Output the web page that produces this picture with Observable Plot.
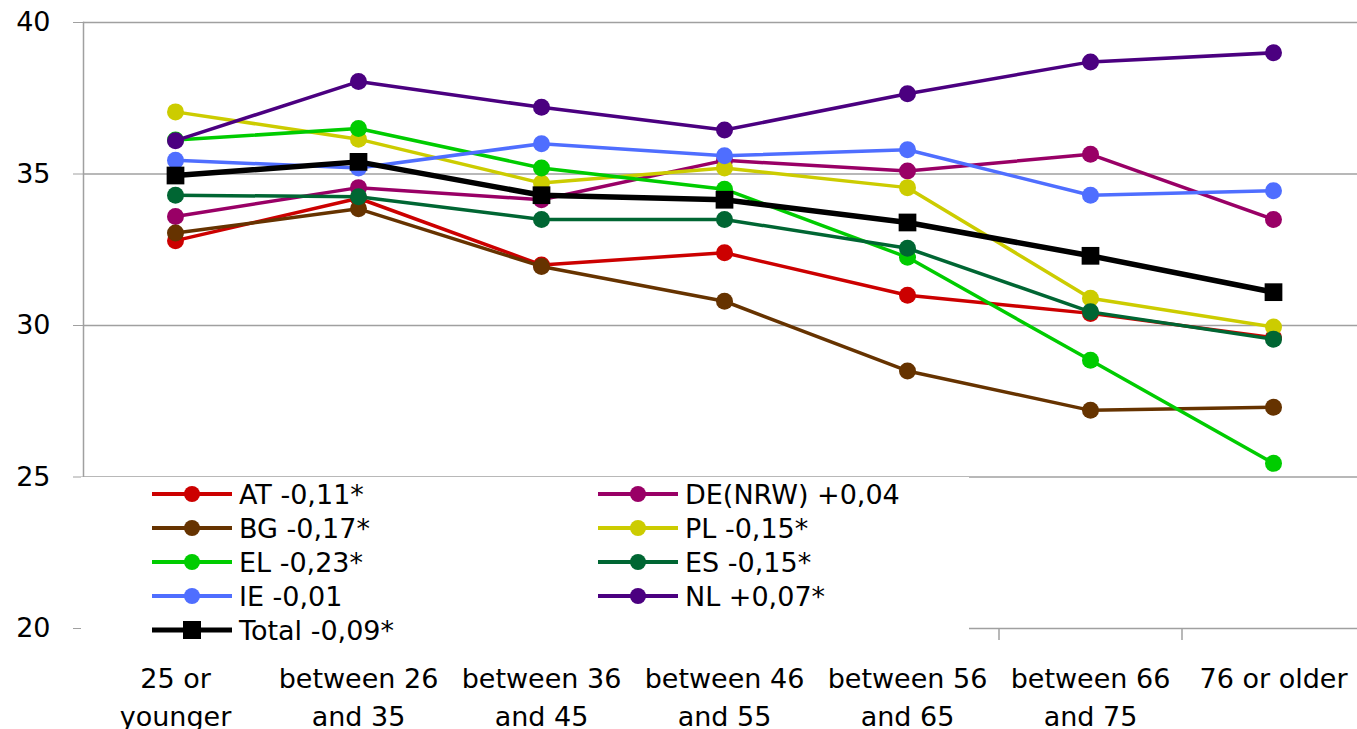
<!DOCTYPE html>
<html><head><meta charset="utf-8">
<script src="https://cdn.jsdelivr.net/npm/d3@7"></script>
<script src="https://cdn.jsdelivr.net/npm/@observablehq/plot@0.6"></script>
<style>
html,body{margin:0;padding:0;overflow:hidden;background:#fff;}
#wrap{position:relative;width:1364px;height:729px;}
#legend{position:absolute;left:81px;top:477px;width:888px;height:168px;background:#fff;}
</style></head><body><div id="wrap"><div id="legend"></div></div>
<script>
const categories = ["25 or younger","between 26 and 35","between 36 and 45","between 46 and 55","between 56 and 65","between 66 and 75","76 or older"];
const tickLabels = ["25 or\nyounger","between 26\nand 35","between 36\nand 45","between 46\nand 55","between 56\nand 65","between 66\nand 75","76 or older"];
const yTicks = [20,25,30,35,40];
const seriesNames = ["AT","DE(NRW)","BG","PL","EL","ES","IE","NL","Total"];
const legendLabels = ["AT -0,11*","DE(NRW) +0,04","BG -0,17*","PL -0,15*","EL -0,23*","ES -0,15*","IE -0,01","NL +0,07*","Total -0,09*"];
const seriesColors = ["#cc0000","#990066","#663300","#cccc00","#00cc00","#006633","#4f6eff","#4b0080","#000000"];

const AT    = [32.8, 34.2, 32.0, 32.4, 31.0, 30.4, 29.6];
const DE    = [33.6, 34.55, 34.15, 35.45, 35.1, 35.65, 33.5];
const BG    = [33.05, 33.85, 31.95, 30.8, 28.5, 27.2, 27.3];
const PL    = [37.05, 36.15, 34.7, 35.2, 34.55, 30.9, 29.95];
const EL    = [36.12, 36.5, 35.2, 34.5, 32.25, 28.85, 25.45];
const ES    = [34.3, 34.25, 33.5, 33.5, 32.55, 30.45, 29.55];
const IE    = [35.45, 35.2, 36.0, 35.6, 35.8, 34.3, 34.45];
const NL    = [36.1, 38.05, 37.2, 36.45, 37.65, 38.7, 39.0];
const Total = [34.95, 35.4, 34.3, 34.15, 33.4, 32.3, 31.1];
const seriesValues = [AT, DE, BG, PL, EL, ES, IE, NL, Total];

const rows = seriesNames.flatMap((s, i) => categories.map((c, j) => ({series: s, category: c, value: seriesValues[i][j]})));

const W = 1364, H = 729, ML = 83, MT = 22, MB = 101;
const step = (W - ML) / categories.length;
const FONT = "DejaVu Sans";
const grey = "#a0a0a0";

const marks = [
  Plot.gridY(yTicks.filter(t => t > 20), {stroke: grey, strokeOpacity: 1, strokeWidth: 1.5}),
  Plot.ruleY([20], {stroke: grey, strokeWidth: 1.5}),
  Plot.frame({anchor: "left", stroke: grey, strokeWidth: 1.5}),
  Plot.ruleX(categories, {x: d => d, dx: step / 2, y1: 20, y2: 19.6, stroke: grey, strokeWidth: 1.5}),
  Plot.axisY({ticks: yTicks, tickSize: 10, tickPadding: 23, stroke: grey, fill: "#000", fontSize: 27, label: null}),
  Plot.axisX({tickSize: 0, tickPadding: 32, tickFormat: d => tickLabels[categories.indexOf(d)], fontSize: 27, lineHeight: 1.41, label: null, fill: "#000"})
];
seriesNames.forEach((s, i) => {
  const data = rows.filter(r => r.series === s);
  const isTotal = s === "Total";
  marks.push(Plot.line(data, {x: "category", y: "value", stroke: seriesColors[i], strokeWidth: isTotal ? 5.5 : 3.5}));
  marks.push(Plot.dot(data, {x: "category", y: "value", fill: seriesColors[i], stroke: "none", r: isTotal ? 10 : 8.5, symbol: isTotal ? "square" : "circle"}));
});

const chart = Plot.plot({
  width: W, height: H,
  marginLeft: ML, marginRight: 0, marginTop: MT, marginBottom: MB,
  style: {fontFamily: FONT, color: "#000", background: "#fff", overflow: "visible"},
  x: {type: "point", domain: categories, padding: 0.5},
  y: {domain: [20, 40]},
  marks
});
document.getElementById("wrap").insertBefore(chart, document.getElementById("legend"));

// legend
const lg = d3.select("#legend").append("svg").attr("width", 888).attr("height", 168)
  .style("font-family", FONT).style("font-size", "27px");
const colX = [71, 517];
seriesNames.forEach((s, i) => {
  const col = i % 2, row = Math.floor(i / 2);
  const x0 = colX[col], y = 17 + 34 * row;
  const g = lg.append("g");
  g.append("line").attr("x1", x0).attr("x2", x0 + 80).attr("y1", y).attr("y2", y)
    .attr("stroke", seriesColors[i]).attr("stroke-width", s === "Total" ? 5 : 4);
  if (s === "Total") {
    g.append("rect").attr("x", x0 + 40 - 9).attr("y", y - 9).attr("width", 18).attr("height", 18).attr("fill", seriesColors[i]);
  } else {
    g.append("circle").attr("cx", x0 + 40).attr("cy", y).attr("r", 8).attr("fill", seriesColors[i]);
  }
  g.append("text").attr("x", x0 + 87).attr("y", y).attr("dy", "0.36em").attr("fill", "#000").text(legendLabels[i]);
});
</script></body></html>
